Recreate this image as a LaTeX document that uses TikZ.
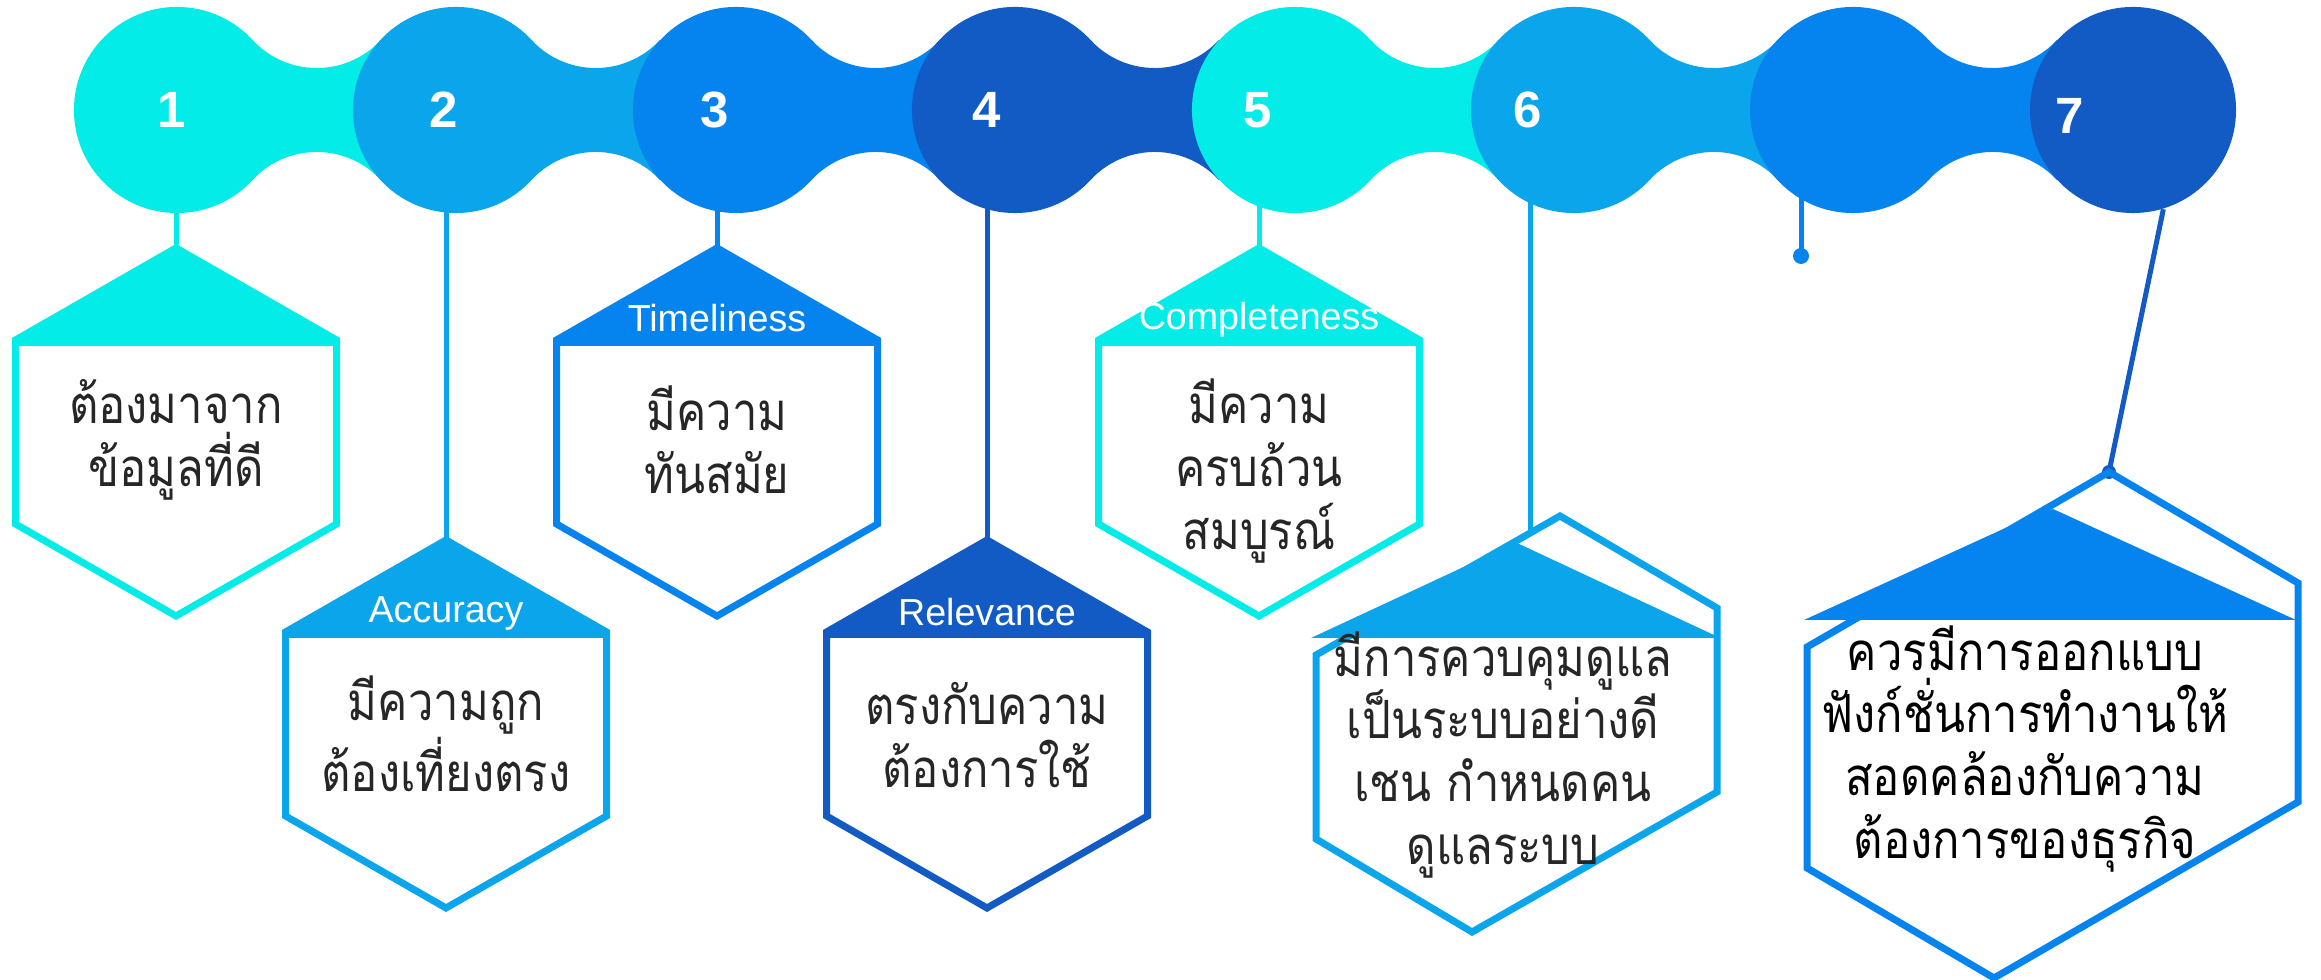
\documentclass[tikz,border=0pt]{standalone}
\usepackage{fontspec}
\setmainfont{Liberation Sans}
\newfontfamily\thaifont[Script=Thai, FakeStretch=0.86]{Loma}
\usepackage{tikz}
\usetikzlibrary{calc,backgrounds}

\definecolor{tlAqua}{RGB}{3,236,232}
\definecolor{tlSky}{RGB}{11,165,236}
\definecolor{tlBlue}{RGB}{5,132,240}
\definecolor{tlNavy}{RGB}{18,91,196}

\begin{document}
\begin{tikzpicture}[x=0.01cm, y=-0.01cm,
    ball/.style={circle, minimum size=2.06cm, inner sep=0pt},
    num/.style={text=white, font=\bfseries\fontsize{14.5}{17}\selectfont},
    tag/.style={text=white, font=\fontsize{10.7}{13}\selectfont},
    body/.style={align=center, text=black!85, font=\thaifont\fontsize{15}{17.9}\selectfont},
    hexline/.style={line width=0.07cm},
    stem/.style={line width=0.05cm}
]
    \useasboundingbox (0,0) rectangle (2321,980);

    % chain of circles, each neck takes the colour of the circle on its left
    \node[ball, fill=tlAqua] (c1) at (177,110) {};
    \fill[tlAqua] ($(c1)+(75.5,-70)$) arc[start angle=137.2, end angle=42.8, radius=87.5] -- ++(0,140) arc[start angle=-42.8, end angle=-137.2, radius=87.5] -- cycle;
    \node[ball, fill=tlSky] (c2) at (456,110) {};
    \fill[tlSky] ($(c2)+(75.5,-70)$) arc[start angle=137.2, end angle=42.8, radius=87.5] -- ++(0,140) arc[start angle=-42.8, end angle=-137.2, radius=87.5] -- cycle;
    \node[ball, fill=tlBlue] (c3) at (736,110) {};
    \fill[tlBlue] ($(c3)+(75.5,-70)$) arc[start angle=137.2, end angle=42.8, radius=87.5] -- ++(0,140) arc[start angle=-42.8, end angle=-137.2, radius=87.5] -- cycle;
    \node[ball, fill=tlNavy] (c4) at (1015,110) {};
    \fill[tlNavy] ($(c4)+(75.5,-70)$) arc[start angle=137.2, end angle=42.8, radius=87.5] -- ++(0,140) arc[start angle=-42.8, end angle=-137.2, radius=87.5] -- cycle;
    \node[ball, fill=tlAqua] (c5) at (1295,110) {};
    \fill[tlAqua] ($(c5)+(75.5,-70)$) arc[start angle=137.2, end angle=42.8, radius=87.5] -- ++(0,140) arc[start angle=-42.8, end angle=-137.2, radius=87.5] -- cycle;
    \node[ball, fill=tlSky] (c6) at (1574,110) {};
    \fill[tlSky] ($(c6)+(75.5,-70)$) arc[start angle=137.2, end angle=42.8, radius=87.5] -- ++(0,140) arc[start angle=-42.8, end angle=-137.2, radius=87.5] -- cycle;
    \node[ball, fill=tlBlue] (c7) at (1853,110) {};
    \fill[tlBlue] ($(c7)+(75.5,-70)$) arc[start angle=137.2, end angle=42.8, radius=87.5] -- ++(0,140) arc[start angle=-42.8, end angle=-137.2, radius=87.5] -- cycle;
    \node[ball, fill=tlNavy] (c8) at (2133,110) {};

    \node[num] (n1) at (172,110) {1};
    \node[num] (n2) at (444,110) {2};
    \node[num] (n3) at (715,110) {3};
    \node[num] (n4) at (987,110) {4};
    \node[num] (n5) at (1258,110) {5};
    \node[num] (n6) at (1528,110) {6};
    \node[num] (n7) at (2070,116) {7};

    % hexagon tips
    \coordinate (h1) at (176,248);
    \coordinate (h2) at (446,540);
    \coordinate (h3) at (717,248);
    \coordinate (h4) at (987,540);
    \coordinate (h5) at (1259,248);
    \coordinate (h6) at (1530,533);
    \coordinate (d7) at (1801,256);
    \coordinate (h7) at (2109,472);

    % stems hang behind the circles
    \begin{pgfonlayer}{background}
        \draw[stem, tlAqua] (h1 |- c1) -- (h1);
        \draw[stem, tlSky] (h2 |- c2) -- (h2);
        \draw[stem, tlBlue] (h3 |- c3) -- (h3);
        \draw[stem, tlNavy] (h4 |- c4) -- (h4);
        \draw[stem, tlAqua] (h5 |- c5) -- (h5);
        \draw[stem, tlSky] (h6 |- c6) -- (h6);
        \draw[stem, tlBlue] (d7 |- c7) -- (d7);
        \fill[tlBlue] (d7) circle[radius=8];
        \draw[stem, tlNavy] (c8.-73) -- (h7);
        \fill[tlNavy] (h7) circle[radius=7];
    \end{pgfonlayer}

    % 1
    \fill[tlAqua] (h1) -- ++(160.5,92) -- ++(0,6) -- ++(-321,0) -- ++(0,-6) -- cycle;
    \draw[hexline, tlAqua] (h1) -- ++(160.5,92) -- ++(0,184) -- ++(-160.5,92) -- ++(-160.5,-92) -- ++(0,-184) -- cycle;
    \node[body] (t1) at ($(h1)+(0,192)$) {ต้องมาจาก\\ข้อมูลที่ดี};

    % 2
    \fill[tlSky] (h2) -- ++(160.5,92) -- ++(0,6) -- ++(-321,0) -- ++(0,-6) -- cycle;
    \draw[hexline, tlSky] (h2) -- ++(160.5,92) -- ++(0,184) -- ++(-160.5,92) -- ++(-160.5,-92) -- ++(0,-184) -- cycle;
    \node[tag] (l2) at ($(h2)+(0,73)$) {Accuracy};
    \node[body] (t2) at ($(h2)+(0,194)$) {มีความถูก\\ต้องเที่ยงตรง};

    % 3
    \fill[tlBlue] (h3) -- ++(160.5,92) -- ++(0,6) -- ++(-321,0) -- ++(0,-6) -- cycle;
    \draw[hexline, tlBlue] (h3) -- ++(160.5,92) -- ++(0,184) -- ++(-160.5,92) -- ++(-160.5,-92) -- ++(0,-184) -- cycle;
    \node[tag] (l3) at ($(h3)+(0,70)$) {Timeliness};
    \node[body] (t3) at ($(h3)+(0,192)$) {มีความ\\ทันสมัย};

    % 4
    \fill[tlNavy] (h4) -- ++(160.5,92) -- ++(0,6) -- ++(-321,0) -- ++(0,-6) -- cycle;
    \draw[hexline, tlNavy] (h4) -- ++(160.5,92) -- ++(0,184) -- ++(-160.5,92) -- ++(-160.5,-92) -- ++(0,-184) -- cycle;
    \node[tag] (l4) at ($(h4)+(0,72)$) {Relevance};
    \node[body] (t4) at ($(h4)+(0,195)$) {ตรงกับความ\\ต้องการใช้};

    % 5
    \fill[tlAqua] (h5) -- ++(160.5,92) -- ++(0,6) -- ++(-321,0) -- ++(0,-6) -- cycle;
    \draw[hexline, tlAqua] (h5) -- ++(160.5,92) -- ++(0,184) -- ++(-160.5,92) -- ++(-160.5,-92) -- ++(0,-184) -- cycle;
    \node[tag] (l5) at ($(h5)+(0,72)$) {Completeness};
    \node[body] (t5) at ($(h5)+(0,223)$) {มีความ\\ครบถ้วน\\สมบูรณ์};

    % 6: outline first, the roof lies over its upper left edge
    \draw[hexline, tlSky] (1560,516) -- (1717,608) -- (1717,792) -- (1472,932) -- (1316,839) -- (1316,655) -- cycle;
    \fill[tlSky] (1311,638) -- (1470,564) .. controls (1495,552) .. (1517,543) -- (1716,636) -- (1716,638) -- cycle;
    \node[body] (t6) at (1503,755) {มีการควบคุมดูแล\\เป็นระบบอย่างดี\\เชน กำหนดคน\\ดูแลระบบ};

    % 7
    \draw[hexline, tlBlue] (h7) -- (2298,583) -- (2298,802) -- (1994,978) -- (1807,868) -- (1807,647) -- cycle;
    \fill[tlBlue] (1804,620) -- (2001,530) .. controls (2025,519) .. (2053,509) -- (2296,620) -- cycle;
    \node[body, text=black] (t7) at (2025,749) {ควรมีการออกแบบ\\ฟังก์ชั่นการทำงานให้\\สอดคล้องกับความ\\ต้องการของธุรกิจ};
\end{tikzpicture}
\end{document}
